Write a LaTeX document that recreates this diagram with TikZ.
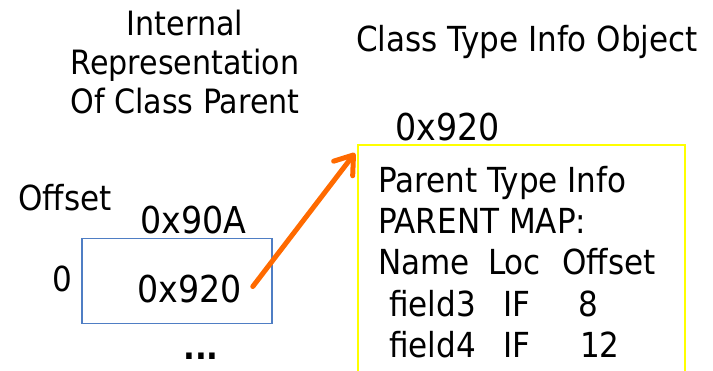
\documentclass[tikz,border=0pt]{standalone}
\usepackage{fontspec}
\setmainfont{DejaVu Sans Condensed}
\usepackage{xcolor}
\usetikzlibrary{positioning,arrows.meta}
\definecolor{slotblue}{HTML}{4F7EC4}
\definecolor{ptrorange}{HTML}{FF6A00}
\definecolor{infoyellow}{HTML}{FFFF00}

\begin{document}
\begin{tikzpicture}
  [x=1pt,y=-1pt,
   every node/.style={inner sep=0pt,font=\fontsize{34.5}{41.2}\selectfont},
   hex/.style={font=\fontsize{37}{41}\selectfont},
   slot/.style={draw=slotblue,line width=1.5pt,minimum width=190pt,minimum height=85pt},
   infobox/.style={draw=infoyellow,line width=2pt,minimum width=327pt,minimum height=260pt},
   ptrarrow/.style={draw=ptrorange,line width=5pt,line cap=round,
     -{Straight Barb[length=17pt,width=24pt,round]}}]
  \useasboundingbox (0,0) rectangle (713,371);

  % left side: the object of class Parent
  \node (title) [anchor=north,align=center,font=\fontsize{33.5}{39}\selectfont] at (185,10) {Internal\\Representation\\Of Class Parent};
  \node (offlbl) [anchor=base west] at (18,211) {Offset};
  \node (slot) [slot,anchor=north west] at (81,238) {};
  \node (addr) [hex,anchor=base west] at (140,234) {0x90A};
  \node (zero) [anchor=base west] at (52,292) {0};
  \node (ptr) [hex,anchor=base west] at (137,303) {0x920};
  \node (dots) [anchor=base west] at (183,360) {\textbf{...}};

  % right side: the type info object
  \node (cti) [anchor=base west] at (356,52) {Class Type Info Object};
  \node (tiaddr) [hex,anchor=base west] at (395,141) {0x920};
  \node (tinfo) [infobox,anchor=north west] at (357,144) {};
  \node (info) [anchor=north west,align=left] at (378,166)
    {Parent Type Info\\
     PARENT MAP:\\
     \makebox[110pt][l]{Name}\makebox[74pt][l]{Loc}Offset\\
     \hspace*{11pt}\makebox[114pt][l]{field3}\makebox[75pt][l]{IF}8\\
     \hspace*{11pt}\makebox[114pt][l]{field4}\makebox[77pt][l]{IF}12};

  \draw[ptrarrow] ([xshift=11pt,yshift=3pt]ptr.east) -- ([xshift=-2pt,yshift=-9pt]tinfo.north west);
\end{tikzpicture}
\end{document}
